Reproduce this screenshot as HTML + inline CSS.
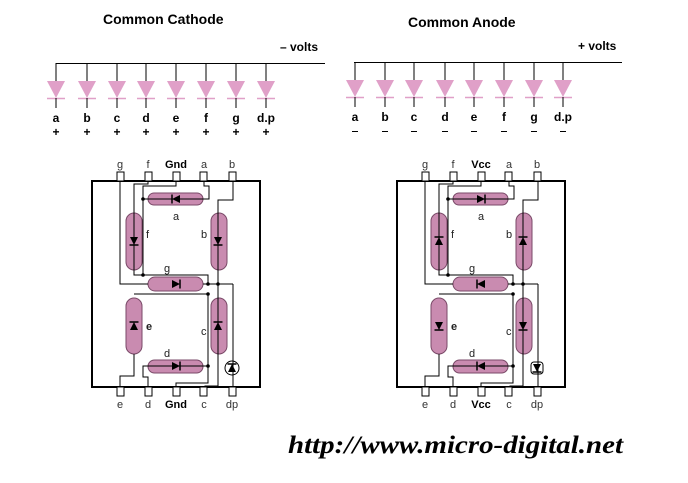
<!DOCTYPE html>
<html><head><meta charset="utf-8"><style>
html,body{margin:0;padding:0;background:#fff;}
svg{display:block}
.t{font-family:"Liberation Sans",sans-serif;}
</style></head><body>
<svg width="688" height="483" viewBox="0 0 688 483" xmlns="http://www.w3.org/2000/svg">
<defs>
<g id="dr"><polygon points="-4,-4 -4,4 4,0" fill="#000"/><line x1="4" y1="-4.5" x2="4" y2="4.5" stroke="#000" stroke-width="1.5"/></g>
</defs>
<!-- Headers -->
<text x="103" y="24" class="t" font-size="14" font-weight="bold">Common Cathode</text>
<text x="280" y="51" class="t" font-size="12" font-weight="bold">– volts</text>
<text x="408" y="27" class="t" font-size="14" font-weight="bold">Common Anode</text>
<text x="578" y="50" class="t" font-size="12" font-weight="bold">+ volts</text>

<g stroke="#000" stroke-width="1">
<line x1="56" y1="63.5" x2="325" y2="63.5"/>
<line x1="354" y1="62.5" x2="622" y2="62.5"/>
</g>
<!-- top diodes CC -->
<g id="cc">
<g transform="translate(56,0)"><line x1="0" y1="63" x2="0" y2="81" stroke="#000"/><polygon points="-9,81 9,81 0,98" fill="#e0a0c8"/><line x1="-9" y1="98.5" x2="9" y2="98.5" stroke="#e0a0c8" stroke-width="1.5"/><line x1="0" y1="98" x2="0" y2="108" stroke="#000"/></g>
<g transform="translate(87,0)"><line x1="0" y1="63" x2="0" y2="81" stroke="#000"/><polygon points="-9,81 9,81 0,98" fill="#e0a0c8"/><line x1="-9" y1="98.5" x2="9" y2="98.5" stroke="#e0a0c8" stroke-width="1.5"/><line x1="0" y1="98" x2="0" y2="108" stroke="#000"/></g>
<g transform="translate(117,0)"><line x1="0" y1="63" x2="0" y2="81" stroke="#000"/><polygon points="-9,81 9,81 0,98" fill="#e0a0c8"/><line x1="-9" y1="98.5" x2="9" y2="98.5" stroke="#e0a0c8" stroke-width="1.5"/><line x1="0" y1="98" x2="0" y2="108" stroke="#000"/></g>
<g transform="translate(146,0)"><line x1="0" y1="63" x2="0" y2="81" stroke="#000"/><polygon points="-9,81 9,81 0,98" fill="#e0a0c8"/><line x1="-9" y1="98.5" x2="9" y2="98.5" stroke="#e0a0c8" stroke-width="1.5"/><line x1="0" y1="98" x2="0" y2="108" stroke="#000"/></g>
<g transform="translate(176,0)"><line x1="0" y1="63" x2="0" y2="81" stroke="#000"/><polygon points="-9,81 9,81 0,98" fill="#e0a0c8"/><line x1="-9" y1="98.5" x2="9" y2="98.5" stroke="#e0a0c8" stroke-width="1.5"/><line x1="0" y1="98" x2="0" y2="108" stroke="#000"/></g>
<g transform="translate(206,0)"><line x1="0" y1="63" x2="0" y2="81" stroke="#000"/><polygon points="-9,81 9,81 0,98" fill="#e0a0c8"/><line x1="-9" y1="98.5" x2="9" y2="98.5" stroke="#e0a0c8" stroke-width="1.5"/><line x1="0" y1="98" x2="0" y2="108" stroke="#000"/></g>
<g transform="translate(236,0)"><line x1="0" y1="63" x2="0" y2="81" stroke="#000"/><polygon points="-9,81 9,81 0,98" fill="#e0a0c8"/><line x1="-9" y1="98.5" x2="9" y2="98.5" stroke="#e0a0c8" stroke-width="1.5"/><line x1="0" y1="98" x2="0" y2="108" stroke="#000"/></g>
<g transform="translate(266,0)"><line x1="0" y1="63" x2="0" y2="81" stroke="#000"/><polygon points="-9,81 9,81 0,98" fill="#e0a0c8"/><line x1="-9" y1="98.5" x2="9" y2="98.5" stroke="#e0a0c8" stroke-width="1.5"/><line x1="0" y1="98" x2="0" y2="108" stroke="#000"/></g>
</g>
<g class="t" font-size="12" font-weight="bold" text-anchor="middle">
<text x="56" y="122">a</text><text x="87" y="122">b</text><text x="117" y="122">c</text><text x="146" y="122">d</text><text x="176" y="122">e</text><text x="206" y="122">f</text><text x="236" y="122">g</text><text x="266" y="122">d.p</text>
<text x="56" y="136">+</text><text x="87" y="136">+</text><text x="117" y="136">+</text><text x="146" y="136">+</text><text x="176" y="136">+</text><text x="206" y="136">+</text><text x="236" y="136">+</text><text x="266" y="136">+</text>
</g>
<!-- top diodes CA -->
<g transform="translate(299,-1)">
<g transform="translate(56,0)"><line x1="0" y1="63" x2="0" y2="81" stroke="#000"/><polygon points="-9,81 9,81 0,98" fill="#e0a0c8"/><line x1="-9" y1="98.5" x2="9" y2="98.5" stroke="#e0a0c8" stroke-width="1.5"/><line x1="0" y1="98" x2="0" y2="108" stroke="#000"/></g>
<g transform="translate(86,0)"><line x1="0" y1="63" x2="0" y2="81" stroke="#000"/><polygon points="-9,81 9,81 0,98" fill="#e0a0c8"/><line x1="-9" y1="98.5" x2="9" y2="98.5" stroke="#e0a0c8" stroke-width="1.5"/><line x1="0" y1="98" x2="0" y2="108" stroke="#000"/></g>
<g transform="translate(115,0)"><line x1="0" y1="63" x2="0" y2="81" stroke="#000"/><polygon points="-9,81 9,81 0,98" fill="#e0a0c8"/><line x1="-9" y1="98.5" x2="9" y2="98.5" stroke="#e0a0c8" stroke-width="1.5"/><line x1="0" y1="98" x2="0" y2="108" stroke="#000"/></g>
<g transform="translate(146,0)"><line x1="0" y1="63" x2="0" y2="81" stroke="#000"/><polygon points="-9,81 9,81 0,98" fill="#e0a0c8"/><line x1="-9" y1="98.5" x2="9" y2="98.5" stroke="#e0a0c8" stroke-width="1.5"/><line x1="0" y1="98" x2="0" y2="108" stroke="#000"/></g>
<g transform="translate(175,0)"><line x1="0" y1="63" x2="0" y2="81" stroke="#000"/><polygon points="-9,81 9,81 0,98" fill="#e0a0c8"/><line x1="-9" y1="98.5" x2="9" y2="98.5" stroke="#e0a0c8" stroke-width="1.5"/><line x1="0" y1="98" x2="0" y2="108" stroke="#000"/></g>
<g transform="translate(205,0)"><line x1="0" y1="63" x2="0" y2="81" stroke="#000"/><polygon points="-9,81 9,81 0,98" fill="#e0a0c8"/><line x1="-9" y1="98.5" x2="9" y2="98.5" stroke="#e0a0c8" stroke-width="1.5"/><line x1="0" y1="98" x2="0" y2="108" stroke="#000"/></g>
<g transform="translate(235,0)"><line x1="0" y1="63" x2="0" y2="81" stroke="#000"/><polygon points="-9,81 9,81 0,98" fill="#e0a0c8"/><line x1="-9" y1="98.5" x2="9" y2="98.5" stroke="#e0a0c8" stroke-width="1.5"/><line x1="0" y1="98" x2="0" y2="108" stroke="#000"/></g>
<g transform="translate(264,0)"><line x1="0" y1="63" x2="0" y2="81" stroke="#000"/><polygon points="-9,81 9,81 0,98" fill="#e0a0c8"/><line x1="-9" y1="98.5" x2="9" y2="98.5" stroke="#e0a0c8" stroke-width="1.5"/><line x1="0" y1="98" x2="0" y2="108" stroke="#000"/></g>
</g>
<g class="t" font-size="12" font-weight="bold" text-anchor="middle">
<text x="355" y="121">a</text><text x="385" y="121">b</text><text x="414" y="121">c</text><text x="445" y="121">d</text><text x="474" y="121">e</text><text x="504" y="121">f</text><text x="534" y="121">g</text><text x="563" y="121">d.p</text>
</g>
<g stroke="#000" stroke-width="1">
<line x1="352" y1="131.5" x2="358" y2="131.5"/><line x1="382" y1="131.5" x2="388" y2="131.5"/><line x1="411" y1="131.5" x2="417" y2="131.5"/><line x1="442" y1="131.5" x2="448" y2="131.5"/><line x1="471" y1="131.5" x2="477" y2="131.5"/><line x1="501" y1="131.5" x2="507" y2="131.5"/><line x1="531" y1="131.5" x2="537" y2="131.5"/><line x1="560" y1="131.5" x2="566" y2="131.5"/>
</g>

<!-- Common cathode display -->
<g>
<rect x="92" y="181" width="168" height="206" fill="none" stroke="#000" stroke-width="2"/>
<g fill="#fff" stroke="#000" stroke-width="1">
<rect x="117" y="172" width="7" height="9"/><rect x="145" y="172" width="7" height="9"/><rect x="173" y="172" width="7" height="9"/><rect x="200" y="172" width="7" height="9"/><rect x="229" y="172" width="7" height="9"/>
<rect x="117" y="387" width="7" height="9"/><rect x="145" y="387" width="7" height="9"/><rect x="173" y="387" width="7" height="9"/><rect x="200" y="387" width="7" height="9"/><rect x="229" y="387" width="7" height="9"/>
</g>
<g class="t" font-size="11" text-anchor="middle" fill="#333">
<text x="120" y="168">g</text><text x="148" y="168">f</text><text x="176" y="168" font-weight="bold" fill="#000">Gnd</text><text x="204" y="168">a</text><text x="232" y="168">b</text>
<text x="120" y="408">e</text><text x="148" y="408">d</text><text x="176" y="408" font-weight="bold" fill="#000">Gnd</text><text x="204" y="408">c</text><text x="232" y="408">dp</text>
</g>
<g fill="#c98bb0" stroke="#7a4a68" stroke-width="1">
<rect x="148" y="193" width="55" height="12" rx="6"/>
<rect x="126" y="213" width="16" height="57" rx="8"/>
<rect x="211" y="213" width="16" height="57" rx="8"/>
<rect x="148" y="277" width="55" height="14" rx="7"/>
<rect x="126" y="298" width="16" height="56" rx="8"/>
<rect x="211" y="298" width="16" height="56" rx="8"/>
<rect x="148" y="360" width="55" height="13" rx="6.5"/>
</g>
<g fill="none" stroke="#000" stroke-width="1">
<polyline points="120,181 120,284 148,284"/>
<polyline points="148,181 148,184 134,184 134,275 208,275 208,284"/>
<polyline points="176,181 176,186 143,186 143,275"/>
<line x1="143" y1="199" x2="203" y2="199"/>
<polyline points="204,181 204,186 209,186 209,199 203,199"/>
<polyline points="233,181 233,200 218,200 218,386 205,386 205,387"/>
<line x1="203" y1="284" x2="233" y2="284"/>
<polyline points="233,284 233,387"/>
<polyline points="134,354 134,376 120,376 120,387"/>
<polyline points="134,294 208,294 208,383 176,383 176,387"/>
<polyline points="148,387 148,377 143,377 143,366 208,366"/>
<circle cx="232" cy="368" r="7"/>
</g>
<g fill="#000">
<circle cx="143" cy="199" r="1.8"/><circle cx="143" cy="275" r="1.8"/><circle cx="208" cy="284" r="1.8"/><circle cx="218" cy="284" r="1.8"/><circle cx="208" cy="294" r="1.8"/><circle cx="208" cy="366" r="1.8"/>
</g>
<use href="#dr" transform="translate(176,199) rotate(180)"/>
<use href="#dr" transform="translate(134,241) rotate(90)"/>
<use href="#dr" transform="translate(218,241) rotate(90)"/>
<use href="#dr" transform="translate(176,284)"/>
<use href="#dr" transform="translate(134,326) rotate(-90)"/>
<use href="#dr" transform="translate(218,326) rotate(-90)"/>
<use href="#dr" transform="translate(176,366)"/>
<use href="#dr" transform="translate(232,368) rotate(-90)"/>
<g class="t" font-size="11" fill="#222">
<text x="173" y="220">a</text><text x="146" y="238">f</text><text x="201" y="238">b</text><text x="164" y="272">g</text><text x="146" y="330" font-weight="bold">e</text><text x="201" y="335">c</text><text x="164" y="357">d</text>
</g>
</g>

<!-- Common anode display -->
<g transform="translate(305,0)">
<rect x="92" y="181" width="168" height="206" fill="none" stroke="#000" stroke-width="2"/>
<g fill="#fff" stroke="#000" stroke-width="1">
<rect x="117" y="172" width="7" height="9"/><rect x="145" y="172" width="7" height="9"/><rect x="173" y="172" width="7" height="9"/><rect x="200" y="172" width="7" height="9"/><rect x="229" y="172" width="7" height="9"/>
<rect x="117" y="387" width="7" height="9"/><rect x="145" y="387" width="7" height="9"/><rect x="173" y="387" width="7" height="9"/><rect x="200" y="387" width="7" height="9"/><rect x="229" y="387" width="7" height="9"/>
</g>
<g class="t" font-size="11" text-anchor="middle" fill="#333">
<text x="120" y="168">g</text><text x="148" y="168">f</text><text x="176" y="168" font-weight="bold" fill="#000">Vcc</text><text x="204" y="168">a</text><text x="232" y="168">b</text>
<text x="120" y="408">e</text><text x="148" y="408">d</text><text x="176" y="408" font-weight="bold" fill="#000">Vcc</text><text x="204" y="408">c</text><text x="232" y="408">dp</text>
</g>
<g fill="#c98bb0" stroke="#7a4a68" stroke-width="1">
<rect x="148" y="193" width="55" height="12" rx="6"/>
<rect x="126" y="213" width="16" height="57" rx="8"/>
<rect x="211" y="213" width="16" height="57" rx="8"/>
<rect x="148" y="277" width="55" height="14" rx="7"/>
<rect x="126" y="298" width="16" height="56" rx="8"/>
<rect x="211" y="298" width="16" height="56" rx="8"/>
<rect x="148" y="360" width="55" height="13" rx="6.5"/>
</g>
<g fill="none" stroke="#000" stroke-width="1">
<polyline points="120,181 120,284 148,284"/>
<polyline points="148,181 148,184 134,184 134,275 208,275 208,284"/>
<polyline points="176,181 176,186 143,186 143,275"/>
<line x1="143" y1="199" x2="203" y2="199"/>
<polyline points="204,181 204,186 209,186 209,199 203,199"/>
<polyline points="233,181 233,200 218,200 218,386 205,386 205,387"/>
<line x1="203" y1="284" x2="233" y2="284"/>
<polyline points="233,284 233,387"/>
<polyline points="134,354 134,376 120,376 120,387"/>
<polyline points="134,294 208,294 208,383 176,383 176,387"/>
<polyline points="148,387 148,377 143,377 143,366 208,366"/>
<rect x="226" y="362" width="12" height="12" rx="3"/>
</g>
<g fill="#000">
<circle cx="143" cy="199" r="1.8"/><circle cx="143" cy="275" r="1.8"/><circle cx="208" cy="284" r="1.8"/><circle cx="218" cy="284" r="1.8"/><circle cx="208" cy="294" r="1.8"/><circle cx="208" cy="366" r="1.8"/>
</g>
<use href="#dr" transform="translate(176,199)"/>
<use href="#dr" transform="translate(134,241) rotate(-90)"/>
<use href="#dr" transform="translate(218,241) rotate(-90)"/>
<use href="#dr" transform="translate(176,284) rotate(180)"/>
<use href="#dr" transform="translate(134,326) rotate(90)"/>
<use href="#dr" transform="translate(218,326) rotate(90)"/>
<use href="#dr" transform="translate(176,366) rotate(180)"/>
<use href="#dr" transform="translate(232,368) rotate(90)"/>
<g class="t" font-size="11" fill="#222">
<text x="173" y="220">a</text><text x="146" y="238">f</text><text x="201" y="238">b</text><text x="164" y="272">g</text><text x="146" y="330" font-weight="bold">e</text><text x="201" y="335">c</text><text x="164" y="357">d</text>
</g>
</g>

<text x="288" y="453" font-family="Liberation Serif,serif" font-style="italic" font-weight="bold" font-size="25" textLength="335" lengthAdjust="spacingAndGlyphs">http://www.micro-digital.net</text>
</svg>
</body></html>
